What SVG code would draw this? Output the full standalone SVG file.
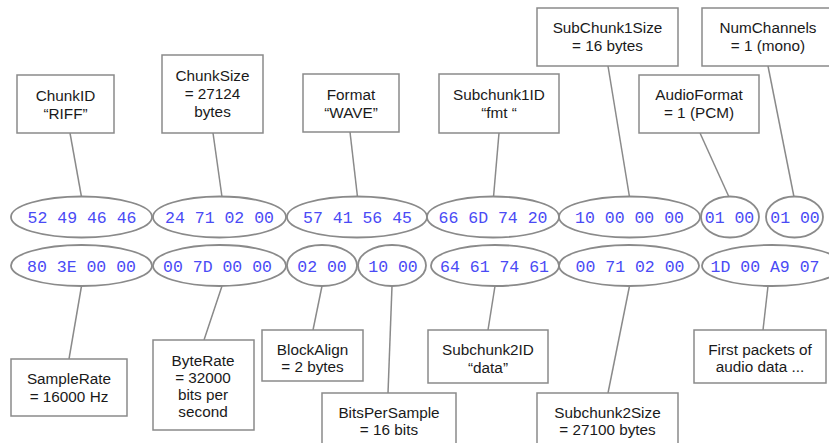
<svg xmlns="http://www.w3.org/2000/svg" width="829" height="443" viewBox="0 0 829 443">
  <style>
    .box { fill: #ffffff; stroke: #8a8a8a; stroke-width: 1.5; }
    .lbl { font-family: "Liberation Sans", Arial, sans-serif; font-size: 15.3px; fill: #1a1a1a; text-anchor: middle; }
    .byte { fill: #ffffff; stroke: #8a8a8a; stroke-width: 1.8; }
    .hex { font-family: "Liberation Mono", "Courier New", monospace; font-size: 16.5px; fill: #4a4af5; text-anchor: middle; }
    .link { stroke: #8a8a8a; stroke-width: 1.5; fill: none; }
  </style>
  <rect width="829" height="443" fill="#ffffff"/>

  <!-- connectors between field labels and byte groups -->
  <g id="connectors">
    <line class="link" x1="70" y1="133" x2="81.5" y2="197"/>
    <line class="link" x1="213" y1="133" x2="222" y2="197"/>
    <line class="link" x1="350" y1="132" x2="357.5" y2="197"/>
    <line class="link" x1="499" y1="133" x2="493.5" y2="197"/>
    <line class="link" x1="608" y1="66" x2="629.5" y2="197"/>
    <line class="link" x1="700" y1="133" x2="729" y2="197"/>
    <line class="link" x1="768" y1="66" x2="794" y2="197"/>
    <line class="link" x1="81.5" y1="286" x2="69" y2="359"/>
    <line class="link" x1="222" y1="286" x2="204" y2="340"/>
    <line class="link" x1="322" y1="286" x2="313" y2="330"/>
    <line class="link" x1="392" y1="286" x2="388" y2="393"/>
    <line class="link" x1="495" y1="286" x2="488" y2="330"/>
    <line class="link" x1="629.5" y1="286" x2="608" y2="393"/>
    <line class="link" x1="768" y1="286" x2="763" y2="330"/>
  </g>

  <!-- header bytes, first row -->
  <g id="b-riff"><ellipse class="byte" cx="81.5" cy="217" rx="70.5" ry="20.5"/><text class="hex" x="82" y="223">52 49 46 46</text></g>
  <g id="b-chunksize"><ellipse class="byte" cx="219.5" cy="217" rx="66.5" ry="20.5"/><text class="hex" x="219.5" y="223">24 71 02 00</text></g>
  <g id="b-wave"><ellipse class="byte" cx="357" cy="217" rx="70" ry="20.5"/><text class="hex" x="357.5" y="223">57 41 56 45</text></g>
  <g id="b-fmt"><ellipse class="byte" cx="493" cy="217" rx="66" ry="20.5"/><text class="hex" x="493" y="223">66 6D 74 20</text></g>
  <g id="b-sub1size"><ellipse class="byte" cx="629.5" cy="217" rx="70.5" ry="20.5"/><text class="hex" x="629.5" y="223">10 00 00 00</text></g>
  <g id="b-audiofmt"><ellipse class="byte" cx="730" cy="217" rx="29" ry="20.5"/><text class="hex" x="729.5" y="223">01 00</text></g>
  <g id="b-channels"><ellipse class="byte" cx="794.5" cy="217" rx="28.5" ry="20.5"/><text class="hex" x="795" y="223">01 00</text></g>

  <!-- header bytes, second row -->
  <g id="b-samplerate"><ellipse class="byte" cx="81.5" cy="265.5" rx="70.5" ry="20.5"/><text class="hex" x="81.5" y="271.5">80 3E 00 00</text></g>
  <g id="b-byterate"><ellipse class="byte" cx="219.5" cy="265.5" rx="66.5" ry="20.5"/><text class="hex" x="217.5" y="271.5">00 7D 00 00</text></g>
  <g id="b-blockalign"><ellipse class="byte" cx="322" cy="265.5" rx="35" ry="20.5"/><text class="hex" x="322" y="271.5">02 00</text></g>
  <g id="b-bitspersample"><ellipse class="byte" cx="392" cy="265.5" rx="34" ry="20.5"/><text class="hex" x="393" y="271.5">10 00</text></g>
  <g id="b-data"><ellipse class="byte" cx="495" cy="265.5" rx="64" ry="20.5"/><text class="hex" x="494.5" y="271.5">64 61 74 61</text></g>
  <g id="b-sub2size"><ellipse class="byte" cx="629" cy="265.5" rx="70" ry="20.5"/><text class="hex" x="630" y="271.5">00 71 02 00</text></g>
  <g id="b-audio"><ellipse class="byte" cx="772" cy="265.5" rx="70" ry="20.5"/><text class="hex" x="765" y="271.5">1D 00 A9 07</text></g>

  <!-- field labels above -->
  <g id="n-chunkid"><rect class="box" x="17" y="75" width="97" height="58"/><text class="lbl" x="65.5" y="101">ChunkID</text><text class="lbl" x="65.5" y="119">“RIFF”</text></g>
  <g id="n-chunksize"><rect class="box" x="162" y="55" width="101" height="78"/><text class="lbl" x="212.5" y="81">ChunkSize</text><text class="lbl" x="212.5" y="99">= 27124</text><text class="lbl" x="212.5" y="117">bytes</text></g>
  <g id="n-format"><rect class="box" x="303" y="74" width="96" height="58"/><text class="lbl" x="351" y="100">Format</text><text class="lbl" x="351" y="118">“WAVE”</text></g>
  <g id="n-sub1id"><rect class="box" x="439" y="74" width="120" height="59"/><text class="lbl" x="499" y="100">Subchunk1ID</text><text class="lbl" x="499" y="118">“fmt “</text></g>
  <g id="n-sub1size"><rect class="box" x="537" y="8" width="141" height="58"/><text class="lbl" x="607.5" y="33">SubChunk1Size</text><text class="lbl" x="607.5" y="51">= 16 bytes</text></g>
  <g id="n-audiofmt"><rect class="box" x="639" y="75" width="120" height="58"/><text class="lbl" x="699" y="100">AudioFormat</text><text class="lbl" x="699" y="118">= 1 (PCM)</text></g>
  <g id="n-channels"><rect class="box" x="702" y="8" width="140" height="58"/><text class="lbl" x="768" y="33">NumChannels</text><text class="lbl" x="768" y="51">= 1 (mono)</text></g>

  <!-- field labels below -->
  <g id="n-samplerate"><rect class="box" x="11" y="359" width="116" height="57"/><text class="lbl" x="69" y="384">SampleRate</text><text class="lbl" x="69" y="402">= 16000 Hz</text></g>
  <g id="n-byterate"><rect class="box" x="153" y="340" width="101" height="90"/><text class="lbl" x="203" y="366">ByteRate</text><text class="lbl" x="203" y="383">= 32000</text><text class="lbl" x="203" y="400">bits per</text><text class="lbl" x="203" y="417">second</text></g>
  <g id="n-blockalign"><rect class="box" x="262" y="330" width="101" height="51"/><text class="lbl" x="312.5" y="355">BlockAlign</text><text class="lbl" x="312.5" y="372">= 2 bytes</text></g>
  <g id="n-bitspersample"><rect class="box" x="322" y="393" width="134" height="60"/><text class="lbl" x="389" y="418">BitsPerSample</text><text class="lbl" x="389" y="435">= 16 bits</text></g>
  <g id="n-sub2id"><rect class="box" x="428" y="330" width="120" height="53"/><text class="lbl" x="488" y="355">Subchunk2ID</text><text class="lbl" x="488" y="373">“data”</text></g>
  <g id="n-sub2size"><rect class="box" x="537" y="393" width="141" height="60"/><text class="lbl" x="607.5" y="418">Subchunk2Size</text><text class="lbl" x="607.5" y="435">= 27100 bytes</text></g>
  <g id="n-audio"><rect class="box" x="694" y="330" width="132" height="53"/><text class="lbl" x="760" y="355">First packets of</text><text class="lbl" x="760" y="372">audio data ...</text></g>
</svg>
